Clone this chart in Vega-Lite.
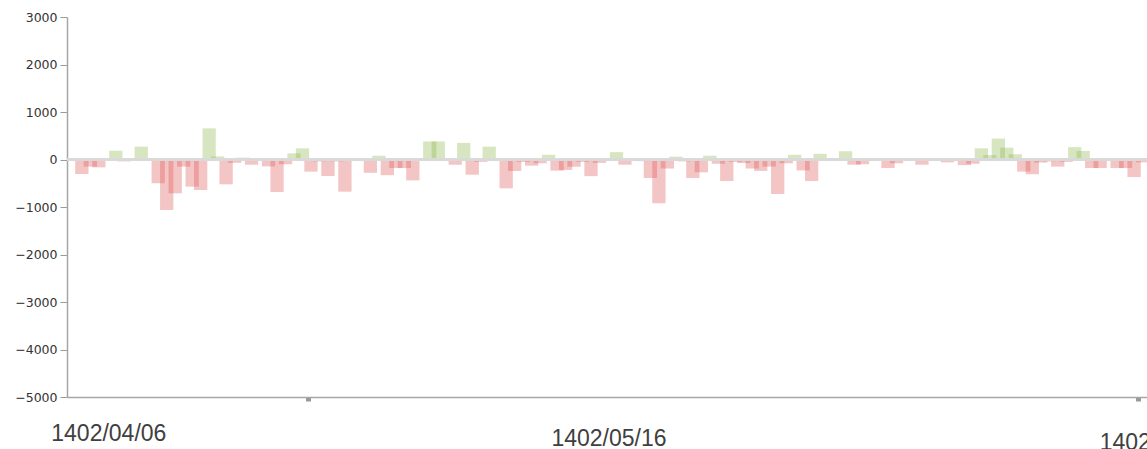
{
  "$schema": "https://vega.github.io/schema/vega-lite/v6.json",
  "width": 1080,
  "height": 380,
  "autosize": "none",
  "padding": {"left": 67, "top": 17, "right": 0, "bottom": 52},
  "background": "white",
  "config": {"view": {"stroke": null}},
  "data": {"values": [
    {"i":0,"v":-305},{"i":1,"v":-150},{"i":2,"v":-165},{"i":3,"v":20},{"i":4,"v":185},
    {"i":5,"v":-40},{"i":6,"v":10},{"i":7,"v":270},{"i":8,"v":-10},{"i":9,"v":-500},
    {"i":10,"v":-1063},{"i":11,"v":-712},{"i":12,"v":-150},{"i":13,"v":-572},{"i":14,"v":-642},
    {"i":15,"v":656},{"i":16,"v":65},{"i":17,"v":-523},{"i":18,"v":-70},{"i":19,"v":40},
    {"i":20,"v":-110},{"i":21,"v":-10},{"i":22,"v":-145},{"i":23,"v":-684},{"i":24,"v":-100},
    {"i":25,"v":130},{"i":26,"v":235},{"i":27,"v":-256},{"i":28,"v":-40},{"i":29,"v":-347},
    {"i":30,"v":-40},{"i":31,"v":-677},{"i":32,"v":-20},{"i":33,"v":-10},{"i":34,"v":-280},
    {"i":35,"v":80},{"i":36,"v":-330},{"i":37,"v":-180},{"i":38,"v":-180},{"i":39,"v":-440},
    {"i":40,"v":-20},{"i":41,"v":380},{"i":42,"v":380},{"i":43,"v":-10},{"i":44,"v":-110},
    {"i":45,"v":350},{"i":46,"v":-320},{"i":47,"v":-50},{"i":48,"v":270},{"i":49,"v":-20},
    {"i":50,"v":-607},{"i":51,"v":-242},{"i":52,"v":-50},{"i":53,"v":-130},{"i":54,"v":-80},
    {"i":55,"v":100},{"i":56,"v":-235},{"i":57,"v":-220},{"i":58,"v":-150},{"i":59,"v":-50},
    {"i":60,"v":-350},{"i":61,"v":-70},{"i":62,"v":-10},{"i":63,"v":155},{"i":64,"v":-110},
    {"i":65,"v":-10},{"i":66,"v":-35},{"i":67,"v":-390},{"i":68,"v":-922},{"i":69,"v":-190},
    {"i":70,"v":60},{"i":71,"v":-40},{"i":72,"v":-390},{"i":73,"v":-270},{"i":74,"v":80},
    {"i":75,"v":-90},{"i":76,"v":-453},{"i":77,"v":-50},{"i":78,"v":-75},{"i":79,"v":-190},
    {"i":80,"v":-240},{"i":81,"v":-150},{"i":82,"v":-726},{"i":83,"v":-80},{"i":84,"v":100},
    {"i":85,"v":-230},{"i":86,"v":-453},{"i":87,"v":120},{"i":88,"v":-10},{"i":89,"v":30},
    {"i":90,"v":175},{"i":91,"v":-110},{"i":92,"v":-100},{"i":93,"v":20},{"i":94,"v":20},
    {"i":95,"v":-180},{"i":96,"v":-80},{"i":97,"v":-10},{"i":98,"v":-10},{"i":99,"v":-110},
    {"i":100,"v":-30},{"i":101,"v":15},{"i":102,"v":-60},{"i":103,"v":-20},{"i":104,"v":-120},
    {"i":105,"v":-90},{"i":106,"v":235},{"i":107,"v":95},{"i":108,"v":440},{"i":109,"v":250},
    {"i":110,"v":110},{"i":111,"v":-255},{"i":112,"v":-310},{"i":113,"v":-65},{"i":114,"v":-40},
    {"i":115,"v":-150},{"i":116,"v":-50},{"i":117,"v":260},{"i":118,"v":180},{"i":119,"v":-180},
    {"i":120,"v":-180},{"i":121,"v":-30},{"i":122,"v":-180},{"i":123,"v":-180},{"i":124,"v":-370},
    {"i":125,"v":-60}
  ]},
  "layer": [
    {
      "mark": {"type": "bar", "size": 13.3, "opacity": 0.35, "clip": true},
      "encoding": {
        "x": {
          "field": "i", "type": "quantitative",
          "scale": {"domain": [-1.162, 124.93], "nice": false, "zero": false},
          "axis": {
            "title": null,
            "values": [3.12, 26.63, 62.06, 124.47, 124.9],
            "labelExpr": "datum.value < 10 ? '1402/04/06' : (datum.value > 60 && datum.value < 70) ? '1402/05/16' : datum.value > 124.8 ? '1402/06/26' : ''",
            "labelFlush": false,
            "labelOverlap": false,
            "labelFont": "Liberation Sans",
            "labelFontSize": 23,
            "labelColor": "#404040",
            "labelBaseline": "top",
            "labelAlign": "center",
            "labelPadding": {"condition": [{"test": "datum.value < 10", "value": 21}, {"test": "datum.value > 124.8", "value": 30}], "value": 26},
            "labelOffset": {"condition": {"test": "datum.value > 124.8", "value": 15}, "value": 0},
            "tickSize": 4,
            "tickWidth": 5,
            "tickColor": "#999999",
            "tickOpacity": {"condition": {"test": "(datum.value > 20 && datum.value < 30) || (datum.value > 124 && datum.value < 124.6)", "value": 1}, "value": 0},
            "domainColor": "#a6a6a6",
            "domainWidth": 1.5,
            "grid": false
          }
        },
        "y": {
          "field": "v", "type": "quantitative",
          "scale": {"domain": [-5000, 3000], "nice": false},
          "axis": {
            "title": null,
            "values": [-5000, -4000, -3000, -2000, -1000, 0, 1000, 2000, 3000],
            "format": "d",
            "labelFont": "DejaVu Sans",
            "labelFontSize": 12.5,
            "labelColor": "#333333",
            "labelPadding": 3,
            "tickSize": 7,
            "tickColor": "#9a9a9a",
            "domainColor": "#a6a6a6",
            "domainWidth": 1.5,
            "grid": false
          }
        },
        "color": {"condition": {"test": "datum.v >= 0", "value": "#8cb84c"}, "value": "#e05a5a"}
      }
    },
    {
      "mark": {"type": "rule", "color": "#d9d9d9", "strokeWidth": 2},
      "encoding": {"y": {"datum": 0}}
    }
  ]
}
